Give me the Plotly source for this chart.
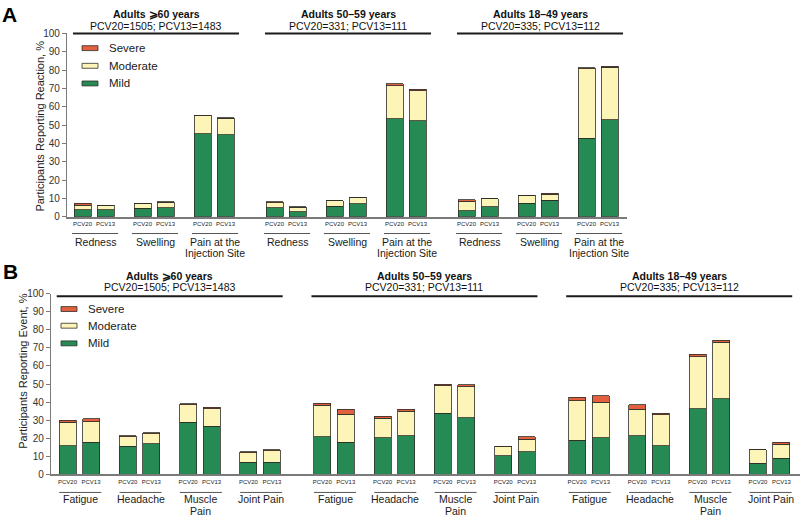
import plotly.graph_objects as go

# ---------------- DATA ----------------
groups = ["Adults ⩾60 years", "Adults 50–59 years", "Adults 18–49 years"]
group_n = ["PCV20=1505; PCV13=1483", "PCV20=331; PCV13=111", "PCV20=335; PCV13=112"]
vaccines = ["PCV20", "PCV13"]
cats_A = ["Redness", "Swelling", "Pain at the<br>Injection Site"]
cats_B = ["Fatigue", "Headache", "Muscle<br>Pain", "Joint Pain"]
severity = ["Severe", "Moderate", "Mild"]

# Panel A: order = group -> category -> vaccine (PCV20, PCV13)
mild_A = [3.9, 3.9, 4.8, 5.0, 45.4, 44.8,
          5.0, 2.8, 5.9, 7.1, 53.6, 52.5,
          3.2, 5.5, 7.3, 9.1, 42.9, 53.0]
moderate_A = [2.3, 2.3, 2.5, 3.0, 9.8, 8.9,
              2.8, 2.5, 2.8, 3.6, 17.8, 16.2,
              5.3, 4.3, 4.4, 3.2, 37.9, 28.5]
severe_A = [1.3, 0.2, 0.2, 0.2, 0.3, 0.4,
            0.4, 0.1, 0.2, 0.1, 1.2, 0.9,
            0.8, 0.2, 0.2, 0.5, 0.5, 0.7]

# Panel B
mild_B = [15.9, 17.7, 15.6, 17.0, 28.9, 26.8, 6.7, 6.9,
          21.0, 17.9, 20.4, 21.5, 34.0, 31.5, 10.5, 12.7,
          18.8, 20.3, 21.3, 15.9, 36.3, 42.0, 6.1, 9.0]
moderate_B = [12.9, 11.6, 5.2, 5.6, 9.6, 9.5, 5.2, 6.1,
              17.2, 15.4, 10.7, 13.4, 15.2, 17.0, 4.9, 6.8,
              22.1, 19.6, 14.7, 17.2, 28.8, 31.2, 7.5, 7.6]
severe_B = [1.2, 1.4, 0.7, 0.5, 0.7, 1.0, 0.8, 0.6,
            1.2, 2.7, 1.1, 1.1, 0.7, 1.0, 0.1, 1.3,
            1.8, 3.7, 2.7, 0.9, 1.4, 1.1, 0.1, 1.1]

y_ticks = list(range(0, 101, 10))

# ---------------- STYLE ----------------
W, H = 800, 520
FONT = "Liberation Sans, Arial, sans-serif"
C_MILD = "#268a55"
C_MOD = "#fdf4b8"
C_SEV = "#e2603e"
C_EDGE = "#2e2e28"
AXIS_C = "#7a7a7a"
BAR_W = 17


def py(p):
    return 1 - p / H


def pxp(p):
    return p / W


# layout geometry in pixel-like axis units
panels = {
    "A": dict(cats=cats_A, first=82.5, gstep=192, pstep=60, bstep=23,
              xr=[67, 627], y0=216, y100=29, xa="x", ya="y",
              mild=mild_A, mod=moderate_A, sev=severe_A,
              head_y=(9, 21, 29), head_half=83, head_dx=2,
              tick_y=225, uline_y=233, uline_half=23, cat_y=241.5, line2=253,
              leg_x=82, leg_tx=107, leg_y=(44, 62, 80),
              ytitle="Participants Reporting Reaction, %", ytitle_xy=(40, 124),
              letter=("A", 9, 10)),
    "B": dict(cats=cats_B, first=67.5, gstep=254.75, pstep=60.3, bstep=23.5,
              xr=[51, 800], y0=478.7, y100=294.3, xa="x2", ya="y2",
              mild=mild_B, mod=moderate_B, sev=severe_B,
              head_y=(276, 288, 297), head_half=113, head_dx=0,
              tick_y=489, uline_y=497, uline_half=21, cat_y=504, line2=516,
              leg_x=61, leg_tx=86, leg_y=(310, 327, 345),
              ytitle="Participants Reporting Event, %", ytitle_xy=(23, 373),
              letter=("B", 10, 272)),
}

fig = go.Figure()
shapes = []
annotations = []

for key, P in panels.items():
    ncat = len(P["cats"])
    xs, labels = [], []
    for g in range(len(groups)):
        for c in range(ncat):
            for b in range(len(vaccines)):
                xs.append(P["first"] + g * P["gstep"] + c * P["pstep"] + b * P["bstep"])
                labels.append(vaccines[b])
    for name, vals, col in [("Mild", P["mild"], C_MILD),
                            ("Moderate", P["mod"], C_MOD),
                            ("Severe", P["sev"], C_SEV)]:
        fig.add_trace(go.Bar(x=xs, y=vals, width=BAR_W, name=name,
                             marker=dict(color=col, line=dict(color=C_EDGE, width=0.8)),
                             xaxis=P["xa"], yaxis=P["ya"], showlegend=False))

    # category labels + underlines
    for g in range(len(groups)):
        for c in range(ncat):
            i = (g * ncat + c) * 2
            mid = (xs[i] + xs[i + 1]) / 2
            shapes.append(dict(type="line", xref=P["xa"], yref="paper",
                               x0=mid + 1 - P["uline_half"], x1=mid + 1 + P["uline_half"],
                               y0=py(P["uline_y"]), y1=py(P["uline_y"]),
                               line=dict(color="#555555", width=1)))
            lines = P["cats"][c].split("<br>")
            ys = [P["cat_y"]] if len(lines) == 1 else [P["cat_y"], P["line2"]]
            for t, yy in zip(lines, ys):
                annotations.append(dict(x=mid + 1, y=py(yy), xref=P["xa"], yref="paper",
                                        text=t, showarrow=False, xanchor="center", yanchor="middle",
                                        font=dict(size=10.5, color="#1a1a1a", family=FONT)))
        # group header
        gi0 = g * ncat * 2
        gi1 = gi0 + ncat * 2 - 1
        gmid = (xs[gi0] + xs[gi1]) / 2 + P["head_dx"]
        hb, hn, hl = P["head_y"]
        annotations.append(dict(x=gmid, y=py(hb), xref=P["xa"], yref="paper",
                                text="<b>" + groups[g] + "</b>", showarrow=False,
                                xanchor="center", yanchor="middle",
                                font=dict(size=10.5, color="#111", family=FONT)))
        annotations.append(dict(x=gmid, y=py(hn), xref=P["xa"], yref="paper",
                                text=group_n[g], showarrow=False,
                                xanchor="center", yanchor="middle",
                                font=dict(size=10.5, color="#111", family=FONT)))
        shapes.append(dict(type="line", xref=P["xa"], yref="paper",
                           x0=gmid - P["head_half"], x1=gmid + P["head_half"],
                           y0=py(hl), y1=py(hl), line=dict(color="#1a1a1a", width=2)))

    # legend drawn manually (wide swatches)
    for name, yy in zip(severity, P["leg_y"]):
        col = {"Severe": C_SEV, "Moderate": C_MOD, "Mild": C_MILD}[name]
        shapes.append(dict(type="rect", xref="paper", yref="paper",
                           x0=pxp(P["leg_x"]), x1=pxp(P["leg_x"] + 16),
                           y0=py(yy + 2.5), y1=py(yy - 2.5),
                           fillcolor=col, line=dict(color=C_EDGE, width=0.8)))
        annotations.append(dict(x=pxp(P["leg_tx"]), y=py(yy), xref="paper", yref="paper",
                                text=name, showarrow=False, xanchor="left", yanchor="middle",
                                font=dict(size=11.5, color="#1a1a1a", family=FONT)))

    # y-axis title
    tx, ty = P["ytitle_xy"]
    annotations.append(dict(x=pxp(tx), y=py(ty), xref="paper", yref="paper",
                            text=P["ytitle"], showarrow=False, textangle=-90,
                            xanchor="center", yanchor="middle",
                            font=dict(size=11, color="#222", family=FONT)))

    # panel letter
    lt, lx, ly = P["letter"]
    annotations.append(dict(x=pxp(lx), y=py(ly), xref="paper", yref="paper",
                            text="<b>" + lt + "</b>", showarrow=False,
                            xanchor="center", yanchor="middle",
                            font=dict(size=21, color="#000", family=FONT)))

    P["xs"] = xs
    P["labels"] = labels

A, B = panels["A"], panels["B"]


def xaxis_cfg(P, anchor):
    return dict(domain=[pxp(P["xr"][0]), pxp(P["xr"][1])], range=P["xr"], anchor=anchor,
                showline=True, linecolor=AXIS_C, linewidth=2, showgrid=False, zeroline=False,
                tickmode="array", tickvals=P["xs"], ticktext=P["labels"], ticks="",
                tickfont=dict(size=6, color="#222", family=FONT), fixedrange=True)


def yaxis_cfg(P, anchor):
    return dict(domain=[py(P["y0"]), py(P["y100"])], range=[0, 100], anchor=anchor,
                showline=True, linecolor=AXIS_C, linewidth=1.2, showgrid=False, zeroline=False,
                tickmode="array", tickvals=y_ticks, ticks="outside", ticklen=4,
                tickcolor=AXIS_C, tickfont=dict(size=10, color="#333", family=FONT),
                fixedrange=True)


fig.update_layout(
    width=W, height=H, margin=dict(l=0, r=0, t=0, b=0),
    paper_bgcolor="white", plot_bgcolor="white",
    barmode="stack", showlegend=False,
    font=dict(family=FONT),
    xaxis=xaxis_cfg(A, "y"), yaxis=yaxis_cfg(A, "x"),
    xaxis2=xaxis_cfg(B, "y2"), yaxis2=yaxis_cfg(B, "x2"),
    shapes=shapes, annotations=annotations,
)

fig.write_html("out.html")
